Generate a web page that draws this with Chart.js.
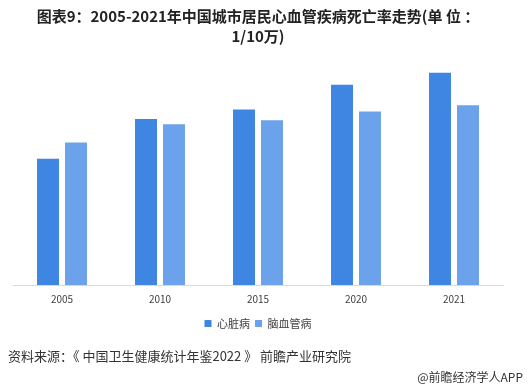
<!DOCTYPE html>
<html>
<head>
<meta charset="utf-8">
<script src="https://cdn.jsdelivr.net/npm/chart.js@4"></script>
<style>
  html, body { margin: 0; padding: 0; background: #fff; }
  #wrap { width: 531px; height: 388px; position: relative; }
</style>
</head>
<body>
<div id="wrap"><canvas id="deathChart" width="531" height="388"></canvas></div>
<script>
// 2005-2021 urban residents cardiovascular death rate (per 100k)
const years = ['2005', '2010', '2015', '2020', '2021'];
const heartDisease = [98.22, 129.19, 136.61, 155.86, 165.37];
const cerebrovascular = [111.02, 125.15, 128.23, 135.18, 140.02];
const seriesNames = ['心脏病', '脑血管病'];

const titleLines = ['图表9：2005-2021年中国城市居民心血管疾病死亡率走势(单 位 ：', '1/10万)'];
const sourceText = '资料来源：《 中国卫生健康统计年鉴2022 》 前瞻产业研究院';
const brandText = '@前瞻经济学人APP';

const FONT = '"Microsoft YaHei", "Noto Sans CJK SC", sans-serif';

const footerPlugin = {
    id: 'footerText',
    afterDraw(chart) {
        const ctx = chart.ctx;
        ctx.save();
        ctx.fillStyle = '#333333';
        ctx.textBaseline = 'middle';
        ctx.font = '13px ' + FONT;
        ctx.textAlign = 'left';
        ctx.fillText(sourceText, 8, 356);
        ctx.font = '12px ' + FONT;
        ctx.textAlign = 'right';
        ctx.fillText(brandText, 523, 377);
        ctx.restore();
    }
};

var ctx = document.getElementById('deathChart').getContext('2d');
new Chart(ctx, {
    type: 'bar',
    data: {
        labels: years,
        datasets: [
            {
                label: seriesNames[0],
                data: heartDisease,
                backgroundColor: '#3f85e2',
                categoryPercentage: 0.571,
                barPercentage: 0.786
            },
            {
                label: seriesNames[1],
                data: cerebrovascular,
                backgroundColor: '#6ba2eb',
                categoryPercentage: 0.571,
                barPercentage: 0.786
            }
        ]
    },
    options: {
        responsive: false,
        animation: false,
        layout: {
            padding: { left: 13, right: 28, top: 4, bottom: 49 }
        },
        scales: {
            x: {
                grid: { display: false, drawTicks: false },
                border: { color: '#d9d9d9', width: 1 },
                ticks: {
                    color: '#404040',
                    font: { family: FONT, size: 10 },
                    padding: 8
                }
            },
            y: {
                display: false,
                min: 0,
                max: 183
            }
        },
        plugins: {
            title: {
                display: true,
                text: titleLines,
                color: '#222222',
                font: { family: FONT, size: 15, weight: 'bold', lineHeight: 1.3 },
                padding: { top: 3, bottom: 4 }
            },
            legend: {
                position: 'bottom',
                labels: {
                    boxWidth: 7,
                    boxHeight: 7,
                    color: '#404040',
                    font: { family: FONT, size: 11 },
                    padding: 5
                }
            },
            tooltip: { enabled: false }
        }
    },
    plugins: [footerPlugin]
});
</script>
</body>
</html>
